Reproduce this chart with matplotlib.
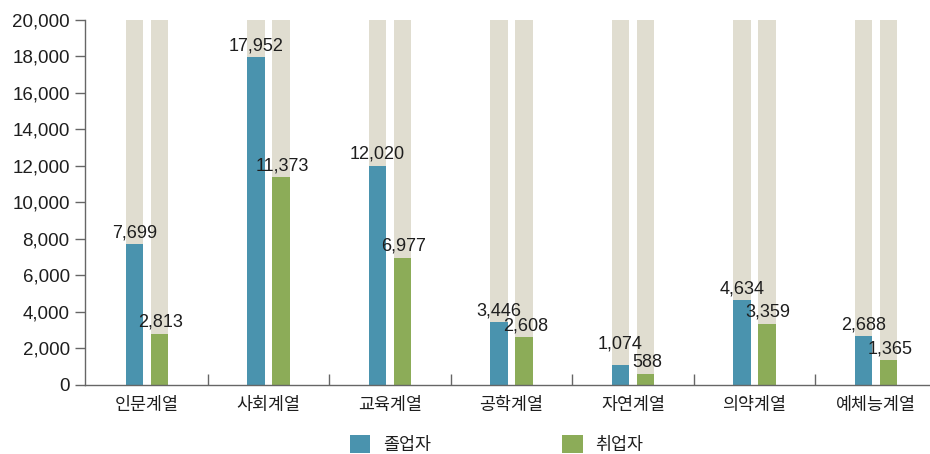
import matplotlib
import matplotlib.pyplot as plt
import numpy as np

matplotlib.rcParams['font.family'] = ['Liberation Sans', 'Noto Sans CJK KR']

categories = ["인문계열", "사회계열", "교육계열", "공학계열", "자연계열", "의약계열", "예체능계열"]
graduates = [7699, 17952, 12020, 3446, 1074, 4634, 2688]
employed = [2813, 11373, 6977, 2608, 588, 3359, 1365]
y_max = 20000
y_ticks = list(range(0, 20001, 2000))

BLUE = '#4a93ae'
GREEN = '#8cac58'
GRAY = '#e0ddd0'
TEXT = '#1e1e1e'
AXIS = '#666666'

fig = plt.figure(figsize=(9.3, 4.54), dpi=100)
ax = fig.add_axes([0.0914, 0.152, 0.9086, 0.804])

x = np.arange(len(categories))
off = 0.103
w = 0.144

# full-height background columns behind each bar
ax.bar(x - off, [y_max] * len(x), width=w, color=GRAY, zorder=1)
ax.bar(x + off, [y_max] * len(x), width=w, color=GRAY, zorder=1)
b1 = ax.bar(x - off, graduates, width=w, color=BLUE, zorder=2, label='졸업자')
b2 = ax.bar(x + off, employed, width=w, color=GREEN, zorder=2, label='취업자')

# value labels; when the pair is nearly level the blue one is lifted clear of the green one
for i, (xi, v) in enumerate(zip(x, graduates)):
    dy = 9 if v - employed[i] < 600 else 2
    ax.annotate(f'{v:,}', (xi - off, v), xytext=(0, dy), textcoords='offset points',
                ha='center', va='bottom', fontsize=13, color=TEXT, zorder=3)
for xi, v in zip(x, employed):
    ax.annotate(f'{v:,}', (xi + off, v), xytext=(1, 2), textcoords='offset points',
                ha='center', va='bottom', fontsize=13, color=TEXT, zorder=3)

ax.set_xlim(-0.51, 6.445)
ax.set_ylim(0, y_max)
ax.set_yticks(y_ticks)
ax.set_yticklabels([f'{t:,}' for t in y_ticks], fontsize=13.5, color=TEXT)
ax.tick_params(axis='y', length=7, width=1, color=AXIS, pad=4)

ax.set_xticks(x)
ax.set_xticklabels(categories, fontsize=12.5, color=TEXT)
ax.tick_params(axis='x', which='major', length=0, pad=9)
ax.set_xticks(x[:-1] + 0.5, minor=True)
ax.tick_params(axis='x', which='minor', direction='in', length=8, width=1, color=AXIS)

for s in ['top', 'right']:
    ax.spines[s].set_visible(False)
for s in ['left', 'bottom']:
    ax.spines[s].set_color(AXIS)
    ax.spines[s].set_linewidth(1)

fig.legend(handles=[b1, b2], loc='center', bbox_to_anchor=(0.534, 0.022), ncol=2,
           frameon=False, fontsize=12.5, handlelength=1.2, handleheight=1.2,
           handletextpad=0.75, columnspacing=7.5, labelcolor=TEXT)

fig.savefig('out.png', dpi=100)
